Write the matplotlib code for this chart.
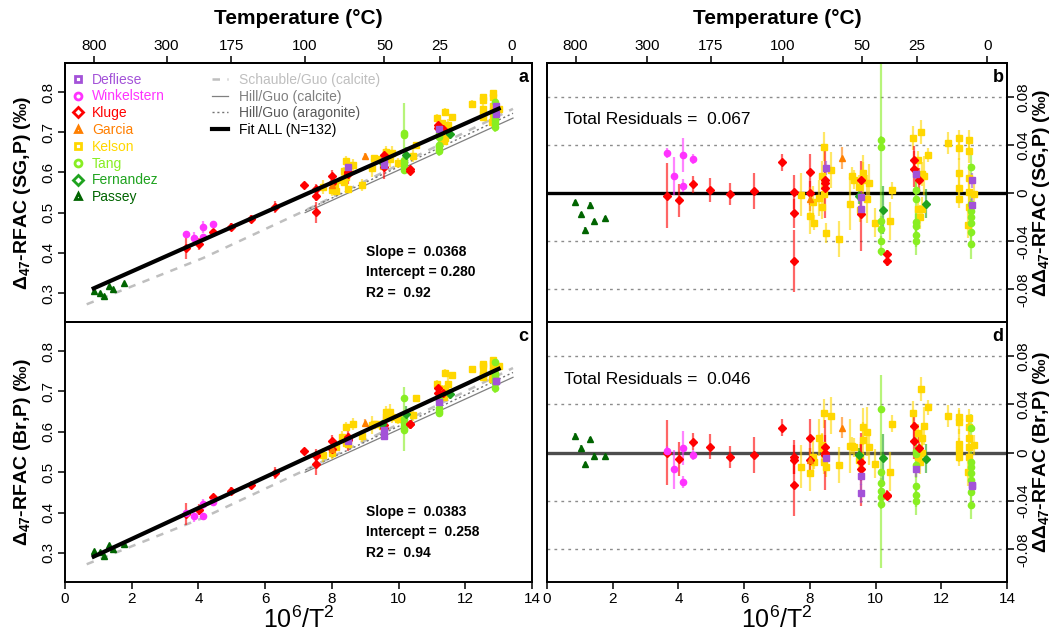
import numpy as np
import matplotlib
matplotlib.use('Agg')
import matplotlib.pyplot as plt
from matplotlib.lines import Line2D
from matplotlib.colors import to_rgba

plt.rcParams['font.family'] = ['Liberation Sans', 'DejaVu Sans']

# ---- data ----
# x = 10^6/T^2, rb = residual vs SG fit (panel b), rd = residual vs Br fit (panel d)
passey_x = [0.86, 1.04, 1.17, 1.31, 1.44, 1.78]
passey_rb = [-0.0074, -0.0177, -0.0303, -0.0097, -0.0232, -0.0207]
passey_rd = [0.0141, 0.0041, -0.0097, 0.0113, -0.0025, -0.0030]
passey_err = [0.002, 0.002, 0.002, 0.002, 0.002, 0.002]

winkel_x = [3.64, 3.86, 4.14, 4.14, 4.45]
winkel_rb = [0.0334, 0.0141, 0.0317, 0.0063, 0.0284]
winkel_rd = [0.0014, -0.0138, 0.0036, -0.0245, -0.0019]
winkel_err = [0.004, 0.016, 0.014, 0.005, 0.004]

kluge_x = [3.64, 4.03, 4.45, 4.97, 5.57, 6.30, 7.16, 7.53, 7.53, 7.53, 7.99,
           7.99, 8.47, 8.47, 8.47, 9.55, 9.55, 10.34, 10.34, 11.18, 11.18, 11.32]
kluge_rb = [-0.0022, -0.0061, 0.0074, 0.0025, -0.0008, 0.0019, 0.0257, 0.0008,
            -0.0166, -0.0563, 0.0174, 0.0, 0.0105, 0.0083, 0.0041, 0.0110,
            -0.0177, -0.0509, -0.0564, 0.0271, 0.0197, 0.0111]
kluge_rd = [0.0, -0.0050, 0.0091, 0.0050, -0.0039, -0.0017, 0.0207, -0.0033,
            -0.0061, -0.0268, 0.0124, -0.0060, 0.0044, -0.0019, -0.0005, -0.0074,
            -0.0138, -0.0350, -0.0355, 0.0216, 0.0100, 0.0041]
kluge_err = [0.027, 0.014, 0.007, 0.010, 0.009, 0.015, 0.007, 0.014, 0.012, 0.026,
             0.015, 0.010, 0.010, 0.029, 0.008, 0.016, 0.030, 0.004, 0.004, 0.012,
             0.015, 0.010]

garcia_x = [7.99, 8.99]
garcia_rb = [-0.0047, 0.0289]
garcia_rd = [-0.0060, 0.0207]
garcia_err = [0.010, 0.009]

defliese_x = [8.48, 9.55, 9.55, 11.22, 12.92, 12.92]
defliese_rb = [0.0207, -0.0130, -0.0030, 0.0160, 0.0105, -0.0102]
defliese_rd = [-0.0047, -0.0190, -0.0337, -0.0138, -0.0268, -0.0280]
defliese_err = [0.006, 0.008, 0.008, 0.006, 0.006, 0.008]

kelson_x = [7.73, 8.09, 8.00, 8.13, 8.29, 8.37, 8.37, 8.42, 8.48, 8.42,
            8.64, 8.90, 9.21, 9.27, 9.33, 9.49, 9.62, 9.61, 9.74, 9.80,
            9.52, 9.98, 10.44, 10.51, 11.15, 11.38, 11.30, 11.40, 11.47, 11.30,
            11.35, 11.40, 11.60, 12.19, 12.54, 12.54, 12.54, 12.54, 12.54, 12.83,
            12.83, 12.83, 12.83, 12.83, 12.80, 13.00]
kelson_rb = [-0.0014, -0.0074, -0.0188, -0.0245, -0.0039, -0.0116, 0.0146, 0.0386, -0.0331, -0.0006,
             0.0193, -0.0378, -0.0088, 0.0146, 0.0110, 0.0050, 0.0105, 0.0166, -0.0047, 0.0088,
             -0.0143, -0.0245, -0.0232, 0.0022, 0.0455, 0.0505, 0.0271, 0.0160, 0.0146, -0.0130,
             -0.0199, -0.0130, 0.0318, 0.0417, 0.0455, 0.0375, 0.0168, 0.0041, -0.0047, 0.0441,
             0.0353, 0.0124, 0.0008, -0.0116, -0.0262, -0.0006]
kelson_rd = [-0.0116, -0.0033, -0.0166, -0.0074, 0.0124, 0.0063, 0.0036, 0.0326, -0.0121, -0.0074,
             0.0306, -0.0102, 0.0055, 0.0055, 0.0044, -0.0060, 0.0215, 0.0105, 0.0174, 0.0044,
             -0.0030, -0.0094, -0.0157, 0.0237, 0.0326, 0.0527, 0.0160, 0.0119, 0.0220, -0.0033,
             -0.0074, -0.0006, 0.0375, 0.0303, 0.0298, 0.0251, 0.0072, 0.0022, -0.0033, 0.0284,
             0.0215, 0.0124, 0.0044, -0.0033, -0.0163, 0.0063]
kelson_err = [0.018, 0.013, 0.015, 0.006, 0.015, 0.010, 0.012, 0.012, 0.008, 0.010,
              0.015, 0.015, 0.022, 0.007, 0.008, 0.010, 0.015, 0.015, 0.020, 0.015,
              0.010, 0.012, 0.016, 0.007, 0.010, 0.010, 0.008, 0.010, 0.016, 0.010,
              0.010, 0.010, 0.006, 0.009, 0.007, 0.010, 0.012, 0.010, 0.008, 0.008,
              0.010, 0.012, 0.010, 0.010, 0.011, 0.008]

tang_x = [10.16, 10.16, 10.16, 10.16, 10.16, 10.16,
          11.22, 11.22, 11.22, 11.22, 11.22, 11.22,
          12.90, 12.90, 12.90, 12.90, 12.90, 12.90, 12.90]
tang_rb = [0.0444, 0.0381, -0.0230, -0.0300, -0.0400, -0.0480,
           0.0022, -0.0047, -0.0240, -0.0276, -0.0350, -0.0397,
           0.0215, -0.0088, -0.0149, -0.0199, -0.0248, -0.0323, -0.0425]
tang_rd = [0.0359, -0.0157, -0.0249, -0.0315, -0.0365, -0.0425,
           0.0017, -0.0014, -0.0100, -0.0280, -0.0350, -0.0400,
           0.0200, -0.0075, -0.0116, -0.0170, -0.0226, -0.0323, -0.0433]
tang_err = [0.003, 0.080, 0.004, 0.004, 0.004, 0.004,
            0.008, 0.020, 0.010, 0.010, 0.010, 0.012,
            0.012, 0.010, 0.010, 0.010, 0.012, 0.012, 0.012]

fern_x = [9.49, 10.22, 11.53]
fern_rb = [-0.0028, -0.0138, -0.0088]
fern_rd = [-0.0019, -0.0047, -0.0052]
fern_err = [0.006, 0.020, 0.012]

# fit parameters printed on the panels
fit_sg = (0.0368, 0.280, 0.92, 0.067)
fit_br = (0.0383, 0.258, 0.94, 0.046)

# published calibration lines
schauble_x = [0.65, 4.14, 7.14, 13.43]
schauble_y = [0.272, 0.387, 0.503, 0.758]
hill_cal_x = [7.2, 13.43]
hill_cal_y = [0.500, 0.735]
hill_arag_x = [7.2, 13.43]
hill_arag_y = [0.505, 0.747]

temp_ticks = [800, 300, 175, 100, 50, 25, 0]

# name, marker, colour, x, rb, rd, err   (drawing order)
sets = [
    ('Kelson', 's', '#FFD700', kelson_x, kelson_rb, kelson_rd, kelson_err),
    ('Tang', 'o', '#88EE22', tang_x, tang_rb, tang_rd, tang_err),
    ('Kluge', 'D', '#FF0000', kluge_x, kluge_rb, kluge_rd, kluge_err),
    ('Garcia', '^', '#FF7F00', garcia_x, garcia_rb, garcia_rd, garcia_err),
    ('Winkelstern', 'o', '#FF33FF', winkel_x, winkel_rb, winkel_rd, winkel_err),
    ('Fernandez', 'D', '#1FA31F', fern_x, fern_rb, fern_rd, fern_err),
    ('Defliese', 's', '#A352D8', defliese_x, defliese_rb, defliese_rd, defliese_err),
    ('Passey', '^', '#006400', passey_x, passey_rb, passey_rd, passey_err),
]
legend_order = ['Defliese', 'Winkelstern', 'Kluge', 'Garcia', 'Kelson', 'Tang',
                'Fernandez', 'Passey']

all_x = np.concatenate([np.array(s[3]) for s in sets])

fig = plt.figure(figsize=(10.58, 6.36), dpi=100)


def px_axes(x0, y0, w, h):
    return fig.add_axes([x0 / 1058, 1 - (y0 + h) / 636, w / 1058, h / 636])


ax_a = px_axes(65, 63, 467, 259)
ax_b = px_axes(547, 63, 460, 259)
ax_c = px_axes(65, 322, 467, 260)
ax_d = px_axes(547, 322, 460, 260)

tick_font = dict(family=['Liberation Sans Narrow', 'Liberation Sans', 'DejaVu Sans'], size=11)


def draw_points(ax, ridx, fit, resid):
    slope, icpt = fit[0], fit[1]
    for name, m, c, x, rb, rd, err in sets:
        x = np.array(x)
        r = np.array(rb if ridx == 4 else rd)
        y = r if resid else slope * x + icpt + r
        ax.errorbar(x, y, yerr=err, fmt='none', ecolor=to_rgba(c, 0.6),
                    elinewidth=1.6, capsize=0, zorder=3)
        ax.plot(x, y, ls='none', marker=m, color=c, ms=4.5 if m != 'D' else 4,
                mec=c, zorder=4)


def style_common(ax):
    ax.set_xlim(0, 14)
    for sp in ax.spines.values():
        sp.set_linewidth(1.4)
    ax.tick_params(direction='out', length=5, width=1.1, pad=2)


def value_panel(ax, fit, letter, top, ylab):
    style_common(ax)
    ax.set_ylim(0.228, 0.872)
    ax.plot(schauble_x, schauble_y, color='0.75', ls=(0, (3, 3)), lw=1.8, zorder=2)
    ax.plot(hill_cal_x, hill_cal_y, color='0.5', ls='-', lw=0.9, zorder=2)
    ax.plot(hill_arag_x, hill_arag_y, color='0.45', ls=(0, (1.5, 2)), lw=1.0, zorder=2)
    draw_points(ax, 4 if letter == 'a' else 5, fit, resid=False)
    fx = np.array([all_x.min(), all_x.max()])
    ax.plot(fx, fit[0] * fx + fit[1], color='black', lw=3, zorder=5)
    ax.set_yticks([0.3, 0.4, 0.5, 0.6, 0.7, 0.8])
    ax.set_yticklabels(['0.3', '0.4', '0.5', '0.6', '0.7', '0.8'], rotation=90,
                       va='center', **tick_font)
    ax.text(0.645, 0.27, 'Slope =  {:.4f}'.format(fit[0]), transform=ax.transAxes,
            fontsize=10, fontweight='bold', va='center')
    sep = ' ' if letter == 'a' else '  '
    ax.text(0.645, 0.193, 'Intercept =' + sep + '{:.3f}'.format(fit[1]),
            transform=ax.transAxes, fontsize=10, fontweight='bold', va='center')
    ax.text(0.645, 0.112, 'R2 =  {:.2f}'.format(fit[2]), transform=ax.transAxes,
            fontsize=10, fontweight='bold', va='center')
    ax.text(0.992, 0.945, letter, transform=ax.transAxes, ha='right', va='center',
            fontsize=13, fontweight='bold')
    ax.text(-0.092, 0.5, ylab, transform=ax.transAxes, rotation=90, ha='center',
            va='center', fontsize=14, fontweight='bold')


def resid_panel(ax, fit, letter, ylab, zero_col):
    style_common(ax)
    ax.set_ylim(-0.107, 0.108)
    for g in [-0.08, -0.04, 0.04, 0.08]:
        ax.axhline(g, color='0.55', ls=(0, (2, 3)), lw=1, zorder=1)
    ax.axhline(0, color=zero_col, lw=2.4, zorder=2)
    draw_points(ax, 4 if letter == 'b' else 5, fit, resid=True)
    ax.yaxis.tick_right()
    ax.set_yticks([-0.08, -0.04, 0, 0.04, 0.08])
    ax.set_yticklabels(['-0.08', '-0.04', '0', '0.04', '0.08'], rotation=90,
                       va='center', **tick_font)
    ax.text(0.037, 0.78, 'Total Residuals =  {:.3f}'.format(fit[3]),
            transform=ax.transAxes, fontsize=12.5, va='center')
    ax.text(0.992, 0.945, letter, transform=ax.transAxes, ha='right', va='center',
            fontsize=13, fontweight='bold')
    ax.text(1.075, 0.5, ylab, transform=ax.transAxes, rotation=90, ha='center',
            va='center', fontsize=14, fontweight='bold')


def top_axis(ax):
    ax.tick_params(axis='x', bottom=False, labelbottom=False)
    t = ax.twiny()
    t.set_xlim(0, 14)
    t.set_xticks([1e6 / (T + 273.15) ** 2 for T in temp_ticks])
    t.set_xticklabels([str(T) for T in temp_ticks], **tick_font)
    t.tick_params(direction='out', length=5, width=1.1, pad=2)
    for sp in t.spines.values():
        sp.set_linewidth(1.4)
    t.text(0.5, 1.17, 'Temperature (°C)', transform=t.transAxes, ha='center',
           va='center', fontsize=15, fontweight='bold')


def bottom_axis(ax):
    ax.set_xticks(range(0, 15, 2))
    ax.set_xticklabels([str(v) for v in range(0, 15, 2)], **tick_font)
    ax.text(0.5, -0.145, r'$\mathregular{10^6/T^2}$', transform=ax.transAxes,
            ha='center', va='center', fontsize=18,
            family=['Liberation Sans Narrow', 'Liberation Sans'])


lab_sg = 'Δ$\\mathregular{_{47}}$-RFAC (SG,P) (‰)'
lab_br = 'Δ$\\mathregular{_{47}}$-RFAC (Br,P) (‰)'

value_panel(ax_a, fit_sg, 'a', True, lab_sg)
value_panel(ax_c, fit_br, 'c', False, lab_br)
resid_panel(ax_b, fit_sg, 'b', 'Δ' + lab_sg, 'black')
resid_panel(ax_d, fit_br, 'd', 'Δ' + lab_br, '0.3')

top_axis(ax_a)
top_axis(ax_b)
bottom_axis(ax_c)
bottom_axis(ax_d)

# legends in panel a
colors = {s[0]: s[2] for s in sets}
markers = {s[0]: s[1] for s in sets}
h1 = [Line2D([], [], ls='none', marker=markers[n], mfc='white', mec=colors[n],
             mew=2, ms=5) for n in legend_order]
leg1 = ax_a.legend(h1, legend_order, loc='upper left', bbox_to_anchor=(-0.005, 1.0),
                   frameon=False, fontsize=10, handlelength=0.8, handletextpad=0.6,
                   labelspacing=0.2, borderaxespad=0.3,
                   labelcolor=[colors[n] for n in legend_order])
ax_a.add_artist(leg1)
h2 = [Line2D([], [], color='0.75', ls=(0, (3, 3)), lw=1.8),
      Line2D([], [], color='0.5', ls='-', lw=0.9),
      Line2D([], [], color='0.45', ls=(0, (1.5, 2)), lw=1.0),
      Line2D([], [], color='black', lw=3)]
ax_a.legend(h2, ['Schauble/Guo (calcite)', 'Hill/Guo (calcite)',
                 'Hill/Guo (aragonite)', 'Fit ALL (N=132)'],
            loc='upper left', bbox_to_anchor=(0.295, 1.0), frameon=False, fontsize=10,
            handlelength=1.1, handletextpad=0.8, labelspacing=0.2, borderaxespad=0.3,
            labelcolor=['0.75', '0.5', '0.35', 'black'])

fig.savefig('out.png', dpi=100)
